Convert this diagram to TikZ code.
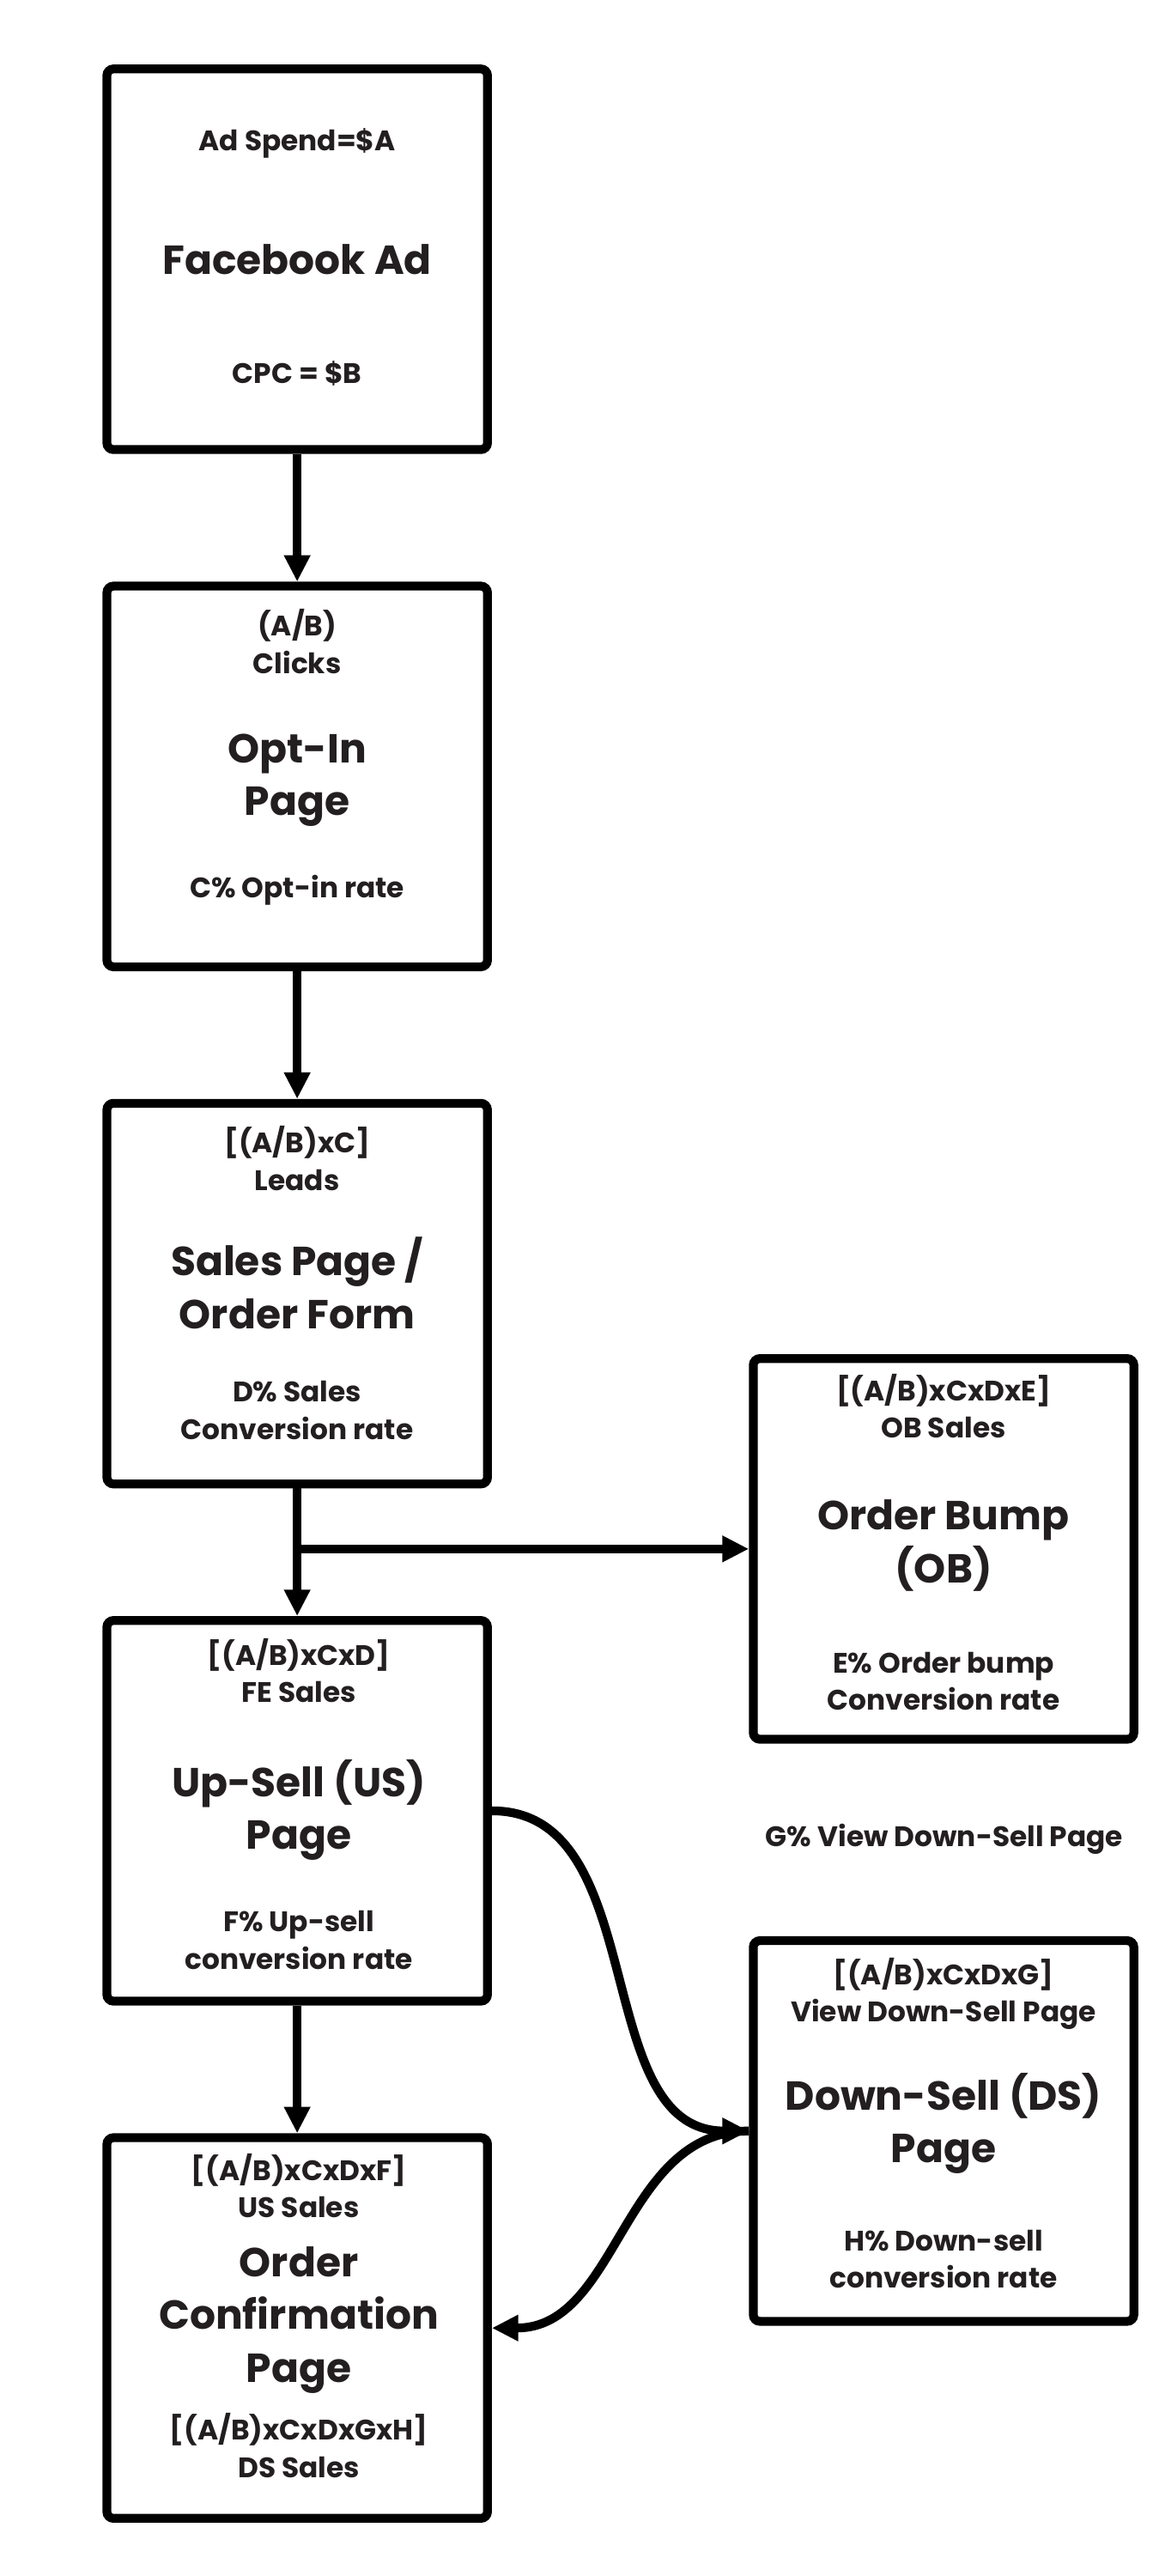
\documentclass[tikz,border=0pt]{standalone}
\usepackage{fontspec}
\setmainfont{Poppins}
\usetikzlibrary{arrows.meta}
\definecolor{ink}{RGB}{35,31,32}
\tikzset{every picture/.style={line width=0.75pt}}

\begin{document}
\begin{tikzpicture}[x=0.75pt,y=0.75pt,yscale=-1,xscale=1,
    stagebox/.style={draw=black, line width=4pt, rounded corners=3pt, minimum width=172.9pt, minimum height=172.9pt, inner sep=0pt},
    small/.style={text=ink, align=center, inner sep=0pt, font=\fontsize{12.8}{16.9}\selectfont\bfseries},
    big/.style={text=ink, align=center, inner sep=0pt, font=\fontsize{18.4}{24}\selectfont\bfseries},
    flow/.style={draw=black, line width=4pt, -{Triangle[length=12pt,width=11.25pt]}}]
    \useasboundingbox (0,0) rectangle (702,1560);

    %Boxes
    \node[stagebox] (fb) at (180,157) {};
    \node[stagebox] (optin) at (180,470.2) {};
    \node[stagebox] (sales) at (180,783.4) {};
    \node[stagebox] (ob) at (571.5,938) {};
    \node[stagebox] (upsell) at (180,1096.6) {};
    \node[stagebox] (ds) at (571.5,1290.5) {};
    \node[stagebox] (confirm) at (180,1409.8) {};

    %Facebook Ad
    \node[small] (fbspend) at (180,87) {Ad Spend=\$A};
    \node[big] (fbtitle) at (180,157) {Facebook Ad};
    \node[small] (fbcpc) at (180,226) {CPC = \$B};

    %Opt-In Page
    \node[small] (optinclicks) at (180,388.5) {(A/B)\\Clicks};
    \node[big] (optintitle) at (180,472.5) {Opt-In\\Page};
    \node[small] (optinrate) at (180,539) {C\% Opt-in rate};

    %Sales Page
    \node[small] (salesleads) at (180,701.5) {[(A/B)xC]\\Leads};
    \node[big] (salestitle) at (180,777) {Sales Page /\\Order Form};
    \node[small] (salesrate) at (180,854) {D\% Sales\\Conversion rate};

    %Order Bump
    \node[small] (obsales) at (571.5,851.5) {[(A/B)xCxDxE]\\OB Sales};
    \node[big] (obtitle) at (571.5,936) {Order Bump\\(OB)};
    \node[small] (obrate) at (571.5,1018) {E\% Order bump\\Conversion rate};

    %Up-Sell Page
    \node[small] (ussales) at (181,1011.5) {[(A/B)xCxD]\\FE Sales};
    \node[big] (ustitle) at (181,1096) {Up-Sell (US)\\Page};
    \node[small] (usrate) at (181,1175) {F\% Up-sell\\conversion rate};

    %Down-Sell Page
    \node[small] (dsview) at (572,1114) {G\% View Down-Sell Page};
    \node[small] (dsviews) at (571.5,1207.5) {[(A/B)xCxDxG]\\View Down-Sell Page};
    \node[big] (dstitle) at (571.5,1286) {Down-Sell (DS)\\Page};
    \node[small] (dsrate) at (571.5,1368) {H\% Down-sell\\conversion rate};

    %Order Confirmation Page
    \node[small] (confsales) at (181,1323.5) {[(A/B)xCxDxF]\\US Sales};
    \node[big] (conftitle) at (181,1405) {Order\\Confirmation\\Page};
    \node[small] (confds) at (181,1481) {[(A/B)xCxDxGxH]\\DS Sales};

    %Connectors
    \draw[flow] (fb) -- (optin);
    \draw[flow] (optin) -- (sales);
    \draw[flow] (sales) -- (upsell);
    \coordinate (fork) at (sales.south |- ob.west);
    \draw[flow] (fork) -- (ob);
    \draw[flow] (upsell) -- (confirm);
    \draw[flow] (upsell.east) to[out=0,in=180] (ds.west);
    \draw[flow] (ds.west) to[out=180,in=0] (confirm.east);

\end{tikzpicture}
\end{document}
